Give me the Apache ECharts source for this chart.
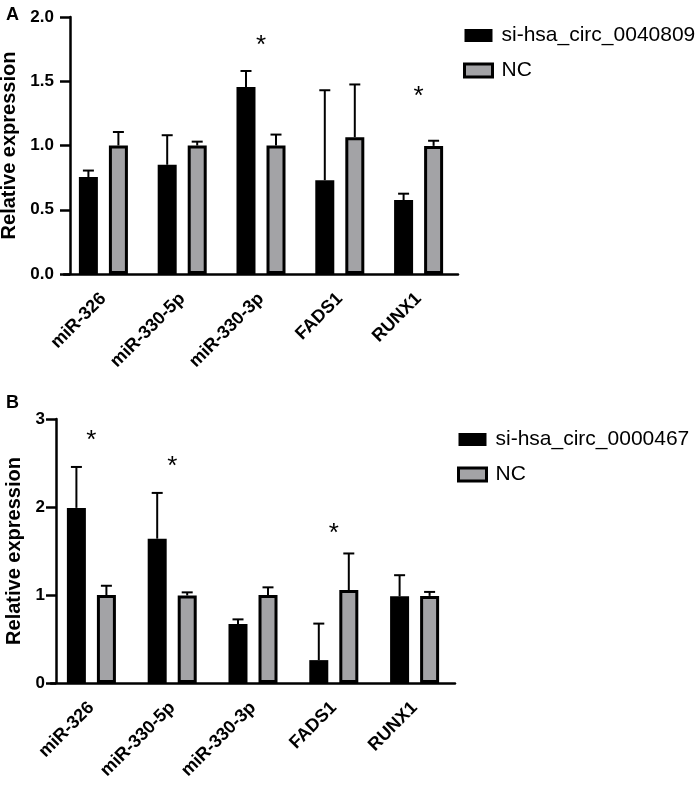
<!DOCTYPE html>
<html>
<head>
<meta charset="utf-8">
<script src="https://cdn.jsdelivr.net/npm/echarts@6/dist/echarts.min.js"></script>
<style>
  html, body { margin: 0; padding: 0; background: #fff; }
  #chart { width: 699px; height: 788px; }
</style>
</head>
<body>
<div id="chart"></div>
<script>
// categories and values
var categories = ['miR-326', 'miR-330-5p', 'miR-330-3p', 'FADS1', 'RUNX1'];

// panel A
var siA = [0.755, 0.85, 1.455, 0.73, 0.575];
var siA_sd = [0.05, 0.23, 0.125, 0.70, 0.05];
var ncA = [1.0, 1.0, 1.0, 1.065, 0.997];
var ncA_sd = [0.105, 0.03, 0.085, 0.41, 0.04];
var starsA = [[2, 1.83], [4, 1.43]];

// panel B
var siB = [1.99, 1.64, 0.67, 0.26, 0.985];
var siB_sd = [0.465, 0.52, 0.053, 0.415, 0.24];
var ncB = [1.0, 0.995, 1.0, 1.057, 0.99];
var ncB_sd = [0.105, 0.035, 0.087, 0.415, 0.045];
var starsB = [[0, 2.83], [1, 2.54], [3, 1.78]];

var FONT = 'Arial, "Liberation Sans", sans-serif';
var GRAY = '#a3a3a6';
var BAR_W = 19;
var SHIFT = 15;   // half distance between the two bar centres
var CAP = 11;

var myChart = echarts.init(document.getElementById('chart'));

function errData(mean, sd) {
  return mean.map(function (m, i) { return [i, m, m + sd[i]]; });
}

function errRender(shift) {
  return function (params, api) {
    var top = api.coord([api.value(0), api.value(2)]);
    var base = api.coord([api.value(0), api.value(1)]);
    var x = top[0] + shift;
    var st = { stroke: '#000', lineWidth: 2 };
    return {
      type: 'group',
      children: [
        { type: 'line', shape: { x1: x, y1: base[1], x2: x, y2: top[1] }, style: st },
        { type: 'line', shape: { x1: x - CAP / 2, y1: top[1], x2: x + CAP / 2, y2: top[1] }, style: st }
      ]
    };
  };
}

function starRender(params, api) {
  var p = api.coord([api.value(0), api.value(1)]);
  return {
    type: 'text',
    x: p[0], y: p[1] + 7,
    style: { text: '*', fill: '#000', font: '26px ' + FONT, align: 'center', verticalAlign: 'middle' }
  };
}

function xAxisOf(gi) {
  return {
    type: 'category', gridIndex: gi, data: categories,
    axisLine: { lineStyle: { color: '#000', width: 2.5 } },
    axisTick: { alignWithLabel: true, length: 10, lineStyle: { color: '#000', width: 2.5 } },
    axisLabel: { rotate: 45, margin: 22, color: '#000', fontWeight: 'bold', fontSize: 18, fontFamily: FONT }
  };
}

function yAxisOf(gi, max, interval, offset, gap, digits, margin) {
  return {
    type: 'value', gridIndex: gi, min: 0, max: max, interval: interval, offset: offset,
    name: 'Relative expression', nameLocation: 'middle', nameGap: gap,
    nameTextStyle: { color: '#000', fontWeight: 'bold', fontSize: 20, fontFamily: FONT },
    splitLine: { show: false },
    axisLine: { show: true, lineStyle: { color: '#000', width: 2.5 } },
    axisTick: { show: true, length: 10, lineStyle: { color: '#000', width: 2.5 } },
    axisLabel: {
      margin: margin, color: '#000', fontWeight: 'bold', fontSize: 17, fontFamily: FONT,
      formatter: function (v) { return v.toFixed(digits); }
    }
  };
}

var ncStyle = { color: GRAY, borderColor: '#000', borderWidth: 3 };

var option = {
  animation: false,
  backgroundColor: '#fff',
  title: [
    { text: 'A', left: 1, top: 1, textStyle: { fontSize: 18, fontWeight: 'bold', color: '#000', fontFamily: FONT } },
    { text: 'B', left: 1, top: 389, textStyle: { fontSize: 18, fontWeight: 'bold', color: '#000', fontFamily: FONT } }
  ],
  legend: [
    {
      orient: 'vertical', left: 458, top: 20, itemWidth: 28, itemHeight: 13, itemGap: 14,
      icon: 'rect',
      textStyle: { fontSize: 21, color: '#000', fontFamily: FONT, padding: [0, 0, 0, 4] },
      data: [
        { name: 'si-hsa_circ_0040809', itemStyle: { color: '#000' } },
        { name: 'NC', itemStyle: ncStyle }
      ]
    },
    {
      orient: 'vertical', left: 452, top: 424, itemWidth: 28, itemHeight: 13, itemGap: 14,
      icon: 'rect',
      textStyle: { fontSize: 21, color: '#000', fontFamily: FONT, padding: [0, 0, 0, 4] },
      data: [
        { name: 'si-hsa_circ_0000467', itemStyle: { color: '#000' } },
        { name: 'NC', itemStyle: ncStyle }
      ]
    }
  ],
  grid: [
    { left: 64, width: 394, top: 17, height: 257, outerBoundsMode: 'none', containLabel: false },
    { left: 51, width: 404, top: 419, height: 264, outerBoundsMode: 'none', containLabel: false }
  ],
  xAxis: [xAxisOf(0), xAxisOf(1)],
  yAxis: [
    yAxisOf(0, 2, 0.5, -6, 43, 1, 16),
    yAxisOf(1, 3, 1, -5, 29, 0, 11)
  ],
  series: [
    { name: 'si-hsa_circ_0040809', type: 'bar', xAxisIndex: 0, yAxisIndex: 0, barWidth: BAR_W, barGap: '58%',
      itemStyle: { color: '#000' }, data: siA, z: 3 },
    { name: 'NC', type: 'bar', xAxisIndex: 0, yAxisIndex: 0, barWidth: BAR_W, barGap: '58%',
      itemStyle: ncStyle, data: ncA, z: 3 },
    { name: 'errA1', type: 'custom', xAxisIndex: 0, yAxisIndex: 0, renderItem: errRender(-SHIFT),
      encode: { x: 0, y: [1, 2] }, data: errData(siA, siA_sd), z: 2 },
    { name: 'errA2', type: 'custom', xAxisIndex: 0, yAxisIndex: 0, renderItem: errRender(SHIFT),
      encode: { x: 0, y: [1, 2] }, data: errData(ncA, ncA_sd), z: 2 },
    { name: 'starA', type: 'custom', xAxisIndex: 0, yAxisIndex: 0, renderItem: starRender,
      encode: { x: 0, y: 1 }, data: starsA, z: 4 },

    { name: 'si-hsa_circ_0000467', type: 'bar', xAxisIndex: 1, yAxisIndex: 1, barWidth: BAR_W, barGap: '58%',
      itemStyle: { color: '#000' }, data: siB, z: 3 },
    { name: 'NC', type: 'bar', xAxisIndex: 1, yAxisIndex: 1, barWidth: BAR_W, barGap: '58%',
      itemStyle: ncStyle, data: ncB, z: 3 },
    { name: 'errB1', type: 'custom', xAxisIndex: 1, yAxisIndex: 1, renderItem: errRender(-SHIFT),
      encode: { x: 0, y: [1, 2] }, data: errData(siB, siB_sd), z: 2 },
    { name: 'errB2', type: 'custom', xAxisIndex: 1, yAxisIndex: 1, renderItem: errRender(SHIFT),
      encode: { x: 0, y: [1, 2] }, data: errData(ncB, ncB_sd), z: 2 },
    { name: 'starB', type: 'custom', xAxisIndex: 1, yAxisIndex: 1, renderItem: starRender,
      encode: { x: 0, y: 1 }, data: starsB, z: 4 }
  ]
};

myChart.setOption(option);
</script>
</body>
</html>
